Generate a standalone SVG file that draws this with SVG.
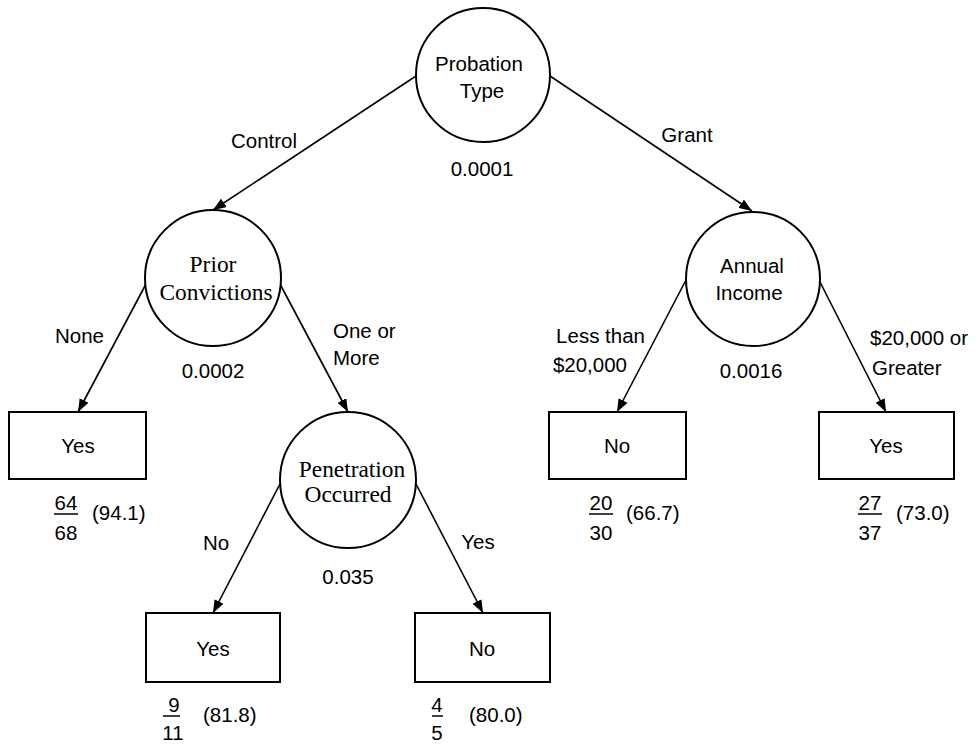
<svg xmlns="http://www.w3.org/2000/svg" width="979" height="744" viewBox="0 0 979 744">
  <style>
    .sans { font-family: "Liberation Sans", Arial, sans-serif; font-size: 20.5px; fill: #000; }
    .serif { font-family: "Liberation Serif", "Times New Roman", serif; font-size: 23.4px; fill: #000; }
    .mid { text-anchor: middle; }
    .end { text-anchor: end; }
    .node { fill: #fff; stroke: #000; stroke-width: 2; }
    .edge { fill: none; stroke: #000; stroke-width: 1.6; marker-end: url(#arrow); }
    .bar { stroke: #000; stroke-width: 1.5; }
  </style>
  <defs>
    <marker id="arrow" markerUnits="userSpaceOnUse" markerWidth="13" markerHeight="10" refX="13" refY="5" orient="auto">
      <path d="M0,0 L13,5 L0,10 z" fill="#000"/>
    </marker>
  </defs>
  <rect width="979" height="744" fill="#fff"/>

  <!-- connectors -->
  <g id="connectors">
    <line class="edge" x1="416" y1="76" x2="213" y2="210"/>
    <line class="edge" x1="550" y1="76" x2="752" y2="211"/>
    <line class="edge" x1="146" y1="284" x2="78" y2="412"/>
    <line class="edge" x1="280" y1="284" x2="348" y2="412"/>
    <line class="edge" x1="686" y1="280" x2="617" y2="412"/>
    <line class="edge" x1="820" y1="282" x2="886" y2="412"/>
    <line class="edge" x1="281" y1="482" x2="213" y2="613"/>
    <line class="edge" x1="415" y1="482" x2="483" y2="613"/>
  </g>

  <!-- branch labels -->
  <g id="edge-labels">
    <text class="sans mid" x="264" y="148">Control</text>
    <text class="sans mid" x="687" y="142">Grant</text>
    <text class="sans" x="55" y="343">None</text>
    <text class="sans" x="333" y="338">One or</text>
    <text class="sans" x="333" y="365">More</text>
    <text class="sans end" x="645" y="343">Less than</text>
    <text class="sans end" x="627" y="372">$20,000</text>
    <text class="sans" x="870" y="345">$20,000 or</text>
    <text class="sans" x="872" y="375">Greater</text>
    <text class="sans mid" x="216" y="550">No</text>
    <text class="sans mid" x="478" y="549">Yes</text>
  </g>

  <!-- split nodes -->
  <g id="probation-type">
    <circle class="node" cx="483" cy="75" r="67"/>
    <text class="sans mid" x="479" y="71">Probation</text>
    <text class="sans mid" x="482" y="98">Type</text>
    <text class="sans mid" x="482" y="176">0.0001</text>
  </g>
  <g id="prior-convictions">
    <circle class="node" cx="213" cy="278" r="68"/>
    <text class="serif mid" x="213" y="272">Prior</text>
    <text class="serif mid" x="216" y="300">Convictions</text>
    <text class="sans mid" x="213" y="378">0.0002</text>
  </g>
  <g id="annual-income">
    <circle class="node" cx="753" cy="279" r="67"/>
    <text class="sans mid" x="752" y="273">Annual</text>
    <text class="sans mid" x="749" y="300">Income</text>
    <text class="sans mid" x="751" y="378">0.0016</text>
  </g>
  <g id="penetration-occurred">
    <circle class="node" cx="348" cy="480" r="68"/>
    <text class="serif mid" x="352" y="477">Penetration</text>
    <text class="serif mid" x="348" y="502">Occurred</text>
    <text class="sans mid" x="348" y="584">0.035</text>
  </g>

  <!-- leaf nodes -->
  <g id="leaf-none">
    <rect class="node" x="9" y="412" width="137" height="67"/>
    <text class="sans mid" x="78" y="453">Yes</text>
    <text class="sans mid" x="66" y="510">64</text>
    <line class="bar" x1="54" y1="514" x2="78" y2="514"/>
    <text class="sans mid" x="66" y="540">68</text>
    <text class="sans" x="92" y="520">(94.1)</text>
  </g>
  <g id="leaf-less-than">
    <rect class="node" x="549" y="412" width="137" height="67"/>
    <text class="sans mid" x="617" y="453">No</text>
    <text class="sans mid" x="601" y="510">20</text>
    <line class="bar" x1="589" y1="514" x2="613" y2="514"/>
    <text class="sans mid" x="601" y="540">30</text>
    <text class="sans" x="626" y="520">(66.7)</text>
  </g>
  <g id="leaf-greater">
    <rect class="node" x="819" y="412" width="135" height="67"/>
    <text class="sans mid" x="886" y="453">Yes</text>
    <text class="sans mid" x="870" y="510">27</text>
    <line class="bar" x1="858" y1="514" x2="882" y2="514"/>
    <text class="sans mid" x="870" y="540">37</text>
    <text class="sans" x="896" y="520">(73.0)</text>
  </g>
  <g id="leaf-no-penetration">
    <rect class="node" x="146" y="613" width="134" height="69"/>
    <text class="sans mid" x="213" y="656">Yes</text>
    <text class="sans mid" x="174" y="712">9</text>
    <line class="bar" x1="163" y1="716" x2="180" y2="716"/>
    <text class="sans mid" x="173" y="740">11</text>
    <text class="sans" x="203" y="722">(81.8)</text>
  </g>
  <g id="leaf-penetration">
    <rect class="node" x="415" y="613" width="135" height="69"/>
    <text class="sans mid" x="482" y="656">No</text>
    <text class="sans mid" x="437" y="712">4</text>
    <line class="bar" x1="432" y1="716" x2="443" y2="716"/>
    <text class="sans mid" x="437" y="740">5</text>
    <text class="sans" x="469" y="722">(80.0)</text>
  </g>
</svg>
